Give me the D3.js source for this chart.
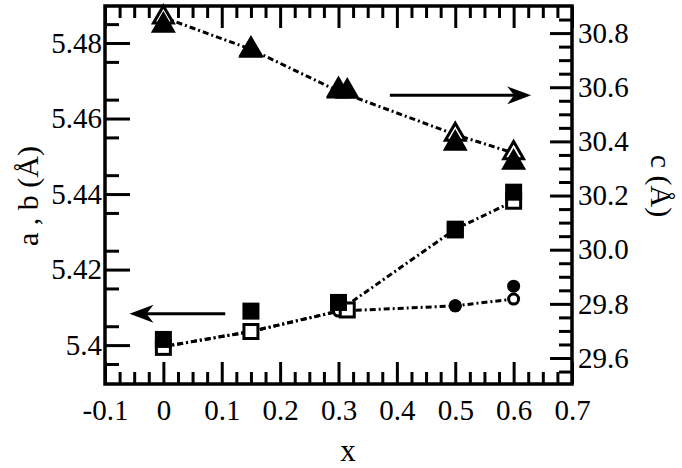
<!DOCTYPE html>
<html>
<head>
<meta charset="utf-8">
<script src="https://cdn.jsdelivr.net/npm/d3@7"></script>
<style>
  body { margin: 0; background: #fff; }
  .tick line { stroke: #000; stroke-width: 3; }
</style>
</head>
<body>
<svg id="chart" width="682" height="468"></svg>
<script>
// x positions
var xVals      = [0, 0.15, 0.3, 0.5, 0.6];
var xValsShift = [0, 0.15, 0.315, 0.5, 0.6];

// c (right axis), triangles
var cOpen    = [30.858, 30.740, 30.585, 30.425, 30.357];
var cFilledX = [0, 0.15, 0.3, 0.315, 0.5, 0.6];
var cFilled  = [30.828, 30.736, 30.590, 30.584, 30.392, 30.322];

// a, b (left axis), squares
var aFilled = [5.4015, 5.4090, 5.4113, 5.4307, 5.4405];
var bOpen   = [5.3994, 5.4036, 5.4093, 5.4305, 5.4381];

// left axis, circles
var circOpenX   = [0, 0.15, 0.3, 0.5, 0.6];
var circOpen    = [5.3996, 5.4036, 5.4090, 5.4104, 5.4122];
var circFilledX = [0.5, 0.6];
var circFilled  = [5.4104, 5.4156];

// guide line through the square points
var lineSqY = [5.3996, 5.4036, 5.4090, 5.4307, 5.4381];

// ticks
var xTicks       = [-0.1, 0, 0.1, 0.2, 0.3, 0.4, 0.5, 0.6, 0.7];
var xTickLabels  = ["-0.1", "0", "0.1", "0.2", "0.3", "0.4", "0.5", "0.6", "0.7"];
var leftTicks      = [5.40, 5.42, 5.44, 5.46, 5.48];
var leftTickLabels = ["5.4", "5.42", "5.44", "5.46", "5.48"];
var rightTicks      = [29.6, 29.8, 30.0, 30.2, 30.4, 30.6, 30.8];
var rightTickLabels = ["29.6", "29.8", "30.0", "30.2", "30.4", "30.6", "30.8"];

// arrows (data coords): [x0, x1, y]
var arrowRight = [0.388, 0.630, 30.57];   // points to c axis
var arrowLeft  = [0.106, -0.058, 5.4083]; // points to a,b axis

// plot box (window.top is read-only, so no bare "top")
var pLeft = 105, pRight = 572, pTop = 6, pBottom = 384;
var SERIF = "'Liberation Serif', 'Times New Roman', Times, 'DejaVu Serif', serif";

var svg = d3.select("#chart");

var x = d3.scaleLinear().domain([-0.1, 0.7]).range([pLeft, pRight]);
var yL = d3.scaleLinear().domain([5.3897, 5.4898]).range([pBottom, pTop]);
var yR = d3.scaleLinear().domain([29.504, 30.9]).range([pBottom, pTop]);

// minor ticks (integer steps to avoid float drift)
var xMinor = d3.range(-4, 29).map(function(i) { return i * 0.025; })
  .filter(function(v) { return Math.abs(Math.round(v * 10) - v * 10) > 1e-6; });
var leftMinor = d3.range(539, 549).map(function(i) { return i / 100 + 0.005; })
  .filter(function(v) { return yL(v) > pTop + 2 && yL(v) < pBottom - 2; });
var rightMinor = d3.range(0, 27).map(function(i) { return 29.55 + i * 0.05; })
  .filter(function(v) { return Math.abs(Math.round(v * 5) - v * 5) > 1e-6 && yR(v) > pTop + 2 && yR(v) < pBottom - 2; });

function fmt(ticks, labels) {
  return function(d) { return labels[ticks.indexOf(d)]; };
}

function drawAxis(axis, tx, ty) {
  var g = svg.append("g").attr("transform", "translate(" + tx + "," + ty + ")").call(axis);
  g.attr("font-family", SERIF).attr("font-size", 29);
  g.selectAll("text")
    .style("font-family", SERIF)
    .style("font-size", "29px")
    .attr("fill", "#000");
  g.select(".domain").remove();
  return g;
}

// bottom
drawAxis(d3.axisBottom(x).tickValues(xTicks).tickFormat(fmt(xTicks, xTickLabels))
  .tickSizeInner(-22).tickSizeOuter(0).tickPadding(15), 0, pBottom);
drawAxis(d3.axisBottom(x).tickValues(xMinor).tickFormat("").tickSizeInner(-12).tickSizeOuter(0), 0, pBottom);
// top
drawAxis(d3.axisTop(x).tickValues(xTicks).tickFormat("").tickSizeInner(-22).tickSizeOuter(0), 0, pTop);
drawAxis(d3.axisTop(x).tickValues(xMinor).tickFormat("").tickSizeInner(-12).tickSizeOuter(0), 0, pTop);
// left
drawAxis(d3.axisLeft(yL).tickValues(leftTicks).tickFormat(fmt(leftTicks, leftTickLabels))
  .tickSizeInner(-25).tickSizeOuter(0).tickPadding(3), pLeft, 0);
drawAxis(d3.axisLeft(yL).tickValues(leftMinor).tickFormat("").tickSizeInner(-14).tickSizeOuter(0), pLeft, 0);
// right
drawAxis(d3.axisRight(yR).tickValues(rightTicks).tickFormat(fmt(rightTicks, rightTickLabels))
  .tickSizeInner(-22).tickSizeOuter(0).tickPadding(6), pRight, 0);
drawAxis(d3.axisRight(yR).tickValues(rightMinor).tickFormat("").tickSizeInner(-13).tickSizeOuter(0), pRight, 0);

// frame
svg.append("rect")
  .attr("x", pLeft).attr("y", pTop)
  .attr("width", pRight - pLeft).attr("height", pBottom - pTop)
  .attr("fill", "none").attr("stroke", "#000").attr("stroke-width", 3.5);

// guide lines
function guide(xs, ys, sy) {
  var line = d3.line().x(function(d) { return x(d[0]); }).y(function(d) { return sy(d[1]); });
  svg.append("path")
    .datum(d3.zip(xs, ys))
    .attr("d", line)
    .attr("fill", "none")
    .attr("stroke", "#000")
    .attr("stroke-width", 3)
    .attr("stroke-dasharray", "6,3,2,3");
}
guide(xVals, cOpen, yR);
guide(xVals, lineSqY, yL);
guide(circOpenX, circOpen, yL);

// markers
var tri = d3.symbol().type(d3.symbolTriangle).size(170);
function markers(xs, ys, sy, kind, filled) {
  var pts = d3.zip(xs, ys);
  var g = svg.append("g");
  if (kind == "tri") {
    g.selectAll("path").data(pts).enter().append("path")
      .attr("d", tri)
      .attr("transform", function(d) { return "translate(" + x(d[0]) + "," + sy(d[1]) + ")"; })
      .attr("fill", filled ? "#000" : "#fff")
      .attr("stroke", "#000").attr("stroke-width", 3);
  } else if (kind == "sq") {
    var s = filled ? 17 : 14;
    g.selectAll("rect").data(pts).enter().append("rect")
      .attr("x", function(d) { return x(d[0]) - s / 2; })
      .attr("y", function(d) { return sy(d[1]) - s / 2; })
      .attr("width", s).attr("height", s)
      .attr("fill", filled ? "#000" : "#fff")
      .attr("stroke", "#000").attr("stroke-width", filled ? 0 : 3);
  } else {
    g.selectAll("circle").data(pts).enter().append("circle")
      .attr("cx", function(d) { return x(d[0]); })
      .attr("cy", function(d) { return sy(d[1]); })
      .attr("r", filled ? 6.5 : 5)
      .attr("fill", filled ? "#000" : "#fff")
      .attr("stroke", "#000").attr("stroke-width", filled ? 0 : 3);
  }
}
markers(xVals, cOpen, yR, "tri", false);
markers(cFilledX, cFilled, yR, "tri", true);
markers(circOpenX, circOpen, yL, "circ", false);
markers(xValsShift, bOpen, yL, "sq", false);
markers(xVals, aFilled, yL, "sq", true);
markers(circFilledX, circFilled, yL, "circ", true);

// arrows
function arrow(a, sy) {
  var x0 = x(a[0]), x1 = x(a[1]), yy = sy(a[2]);
  var dir = x1 > x0 ? 1 : -1;
  svg.append("line")
    .attr("x1", x0).attr("y1", yy).attr("x2", x1 - dir * 10).attr("y2", yy)
    .attr("stroke", "#000").attr("stroke-width", 3);
  var p = d3.path();
  p.moveTo(x1, yy);
  p.lineTo(x1 - dir * 24, yy - 9);
  p.lineTo(x1 - dir * 17, yy);
  p.lineTo(x1 - dir * 24, yy + 9);
  p.closePath();
  svg.append("path").attr("d", p.toString()).attr("fill", "#000");
}
arrow(arrowRight, yR);
arrow(arrowLeft, yL);

// axis titles
function title(tr, str, size) {
  svg.append("text")
    .attr("transform", tr)
    .attr("text-anchor", "middle")
    .attr("font-family", SERIF)
    .style("font-family", SERIF)
    .style("font-size", size + "px")
    .attr("fill", "#000")
    .text(str);
}
title("translate(38,196) rotate(-90)", "a , b (Å)", 30);
title("translate(651,186) rotate(90)", "c (Å)", 30);
title("translate(348,461)", "x", 31);
</script>
</body>
</html>
